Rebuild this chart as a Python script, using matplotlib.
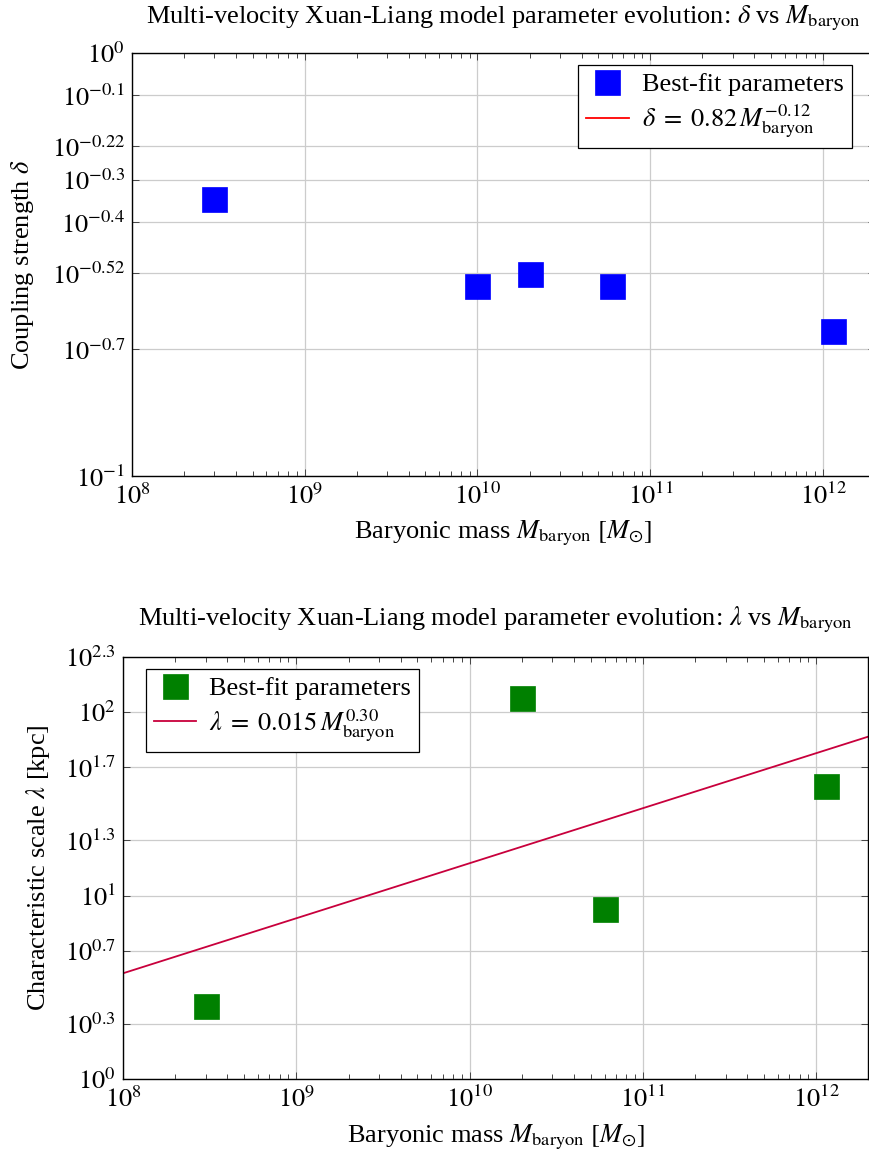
import numpy as np
import matplotlib
matplotlib.use("Agg")
import matplotlib.pyplot as plt
from matplotlib.ticker import FixedLocator, FixedFormatter, LogLocator, NullFormatter

# best-fit parameters
mass_delta = [3.0e8, 1.0e10, 2.0e10, 6.0e10, 1.14e12]
delta_fit = [0.451, 0.281, 0.301, 0.281, 0.220]
mass_lambda = [3.0e8, 2.0e10, 6.0e10, 1.14e12]
lambda_fit = [2.49, 120.0, 8.4, 39.5]

# power-law fits from the legends
delta_amp, delta_exp = 0.82, -0.12
lambda_amp, lambda_exp = 0.015, 0.30

mass_range = [1e8, 2e12]
x_tick_exps = [8, 9, 10, 11, 12]
delta_ytick_exps = [-1, -0.7, -0.52, -0.4, -0.3, -0.22, -0.1, 0]
lambda_ytick_exps = [0, 0.3, 0.7, 1, 1.3, 1.7, 2, 2.3]

plt.rcParams['font.family'] = ['Liberation Serif', 'DejaVu Serif']
plt.rcParams['mathtext.fontset'] = 'stix'
FS = 19

W, H = 870, 1155
fig = plt.figure(figsize=(W / 100, H / 100), dpi=100)


def px_axes(left, right, top, bottom):
    return fig.add_axes([left / W, 1 - bottom / H, (right - left) / W, (bottom - top) / H])


def style_axis(ax, ytick_exps):
    ax.set_xscale('log')
    ax.set_yscale('log')
    ax.set_xlim(mass_range)
    ax.set_ylim(10 ** ytick_exps[0], 10 ** ytick_exps[-1])
    ax.xaxis.set_major_locator(FixedLocator([10.0 ** e for e in x_tick_exps]))
    ax.xaxis.set_major_formatter(FixedFormatter([r'$10^{%d}$' % e for e in x_tick_exps]))
    ax.xaxis.set_minor_locator(LogLocator(base=10, subs=np.arange(2, 10)))
    ax.xaxis.set_minor_formatter(NullFormatter())
    ax.yaxis.set_major_locator(FixedLocator([10.0 ** e for e in ytick_exps]))
    ax.yaxis.set_major_formatter(FixedFormatter([r'$10^{%g}$' % e for e in ytick_exps]))
    ax.yaxis.set_minor_locator(FixedLocator([]))
    ax.tick_params(which='both', direction='in', top=True, right=True, labelsize=FS, width=0.7, color='#444444')
    ax.tick_params(which='major', length=5)
    ax.tick_params(which='minor', length=3.5)
    ax.tick_params(axis='x', pad=5)
    ax.tick_params(axis='y', pad=5)
    ax.grid(True, which='major', color='#cccccc', lw=0.9)
    ax.set_axisbelow(True)
    for s in ax.spines.values():
        s.set_linewidth(1.0)


def add_labels(ax, ylabel, xlab_y, ylab_x):
    ax.set_xlabel(r'Baryonic mass $M_{\mathrm{baryon}}$ $[M_{\odot}]$', fontsize=FS)
    ax.xaxis.label.set_va('center')
    ax.xaxis.set_label_coords(0.5, xlab_y)
    ax.set_ylabel(ylabel, fontsize=FS)
    ax.yaxis.label.set_va('center')
    ax.yaxis.set_label_coords(ylab_x, 0.5)


def add_legend(ax, loc, anchor):
    leg = ax.legend(loc=loc, bbox_to_anchor=anchor, borderaxespad=0,
                    fontsize=FS, fancybox=False, edgecolor='black', framealpha=1,
                    handlelength=1.6, handletextpad=0.5, borderpad=0.3, labelspacing=0.25)
    leg.get_frame().set_linewidth(0.9)


# --- top: coupling strength delta ---
ax1 = px_axes(132, 875, 53, 476)
style_axis(ax1, delta_ytick_exps)
ax1.plot(mass_delta, delta_fit, 's', color='#0000ff', ms=18, mec='#0000ff', mew=0.5,
         label='Best-fit parameters', zorder=3)
ax1.plot(mass_range, [delta_amp * m ** delta_exp for m in mass_range], color='#ff0000', lw=1.3,
         label=r'$\delta\;=\;0.82\,M_{\mathrm{baryon}}^{-0.12}$')
add_labels(ax1, r'Coupling strength $\delta$', -0.135, -0.148)
add_legend(ax1, 'upper right', (0.9685, 0.9716))
fig.text(503 / W, 1 - 18 / H,
         r'Multi-velocity Xuan-Liang model parameter evolution: $\delta$ vs $M_{\mathrm{baryon}}$',
         ha='center', va='center', fontsize=FS)

# --- bottom: characteristic scale lambda ---
ax2 = px_axes(123, 868.5, 657, 1079)
style_axis(ax2, lambda_ytick_exps)
ax2.plot(mass_lambda, lambda_fit, 's', color='#008000', ms=18, mec='#008000', mew=0.5,
         label='Best-fit parameters', zorder=3)
ax2.plot(mass_range, [lambda_amp * m ** lambda_exp for m in mass_range], color='#c8003c', lw=1.3,
         label=r'$\lambda\;=\;0.015\,M_{\mathrm{baryon}}^{0.30}$')
add_labels(ax2, r'Characteristic scale $\lambda$ [kpc]', -0.137, -0.114)
add_legend(ax2, 'upper left', (0.0308, 0.9716))
fig.text(495 / W, 1 - 620 / H,
         r'Multi-velocity Xuan-Liang model parameter evolution: $\lambda$ vs $M_{\mathrm{baryon}}$',
         ha='center', va='center', fontsize=FS)

fig.savefig('out.png', dpi=100)
